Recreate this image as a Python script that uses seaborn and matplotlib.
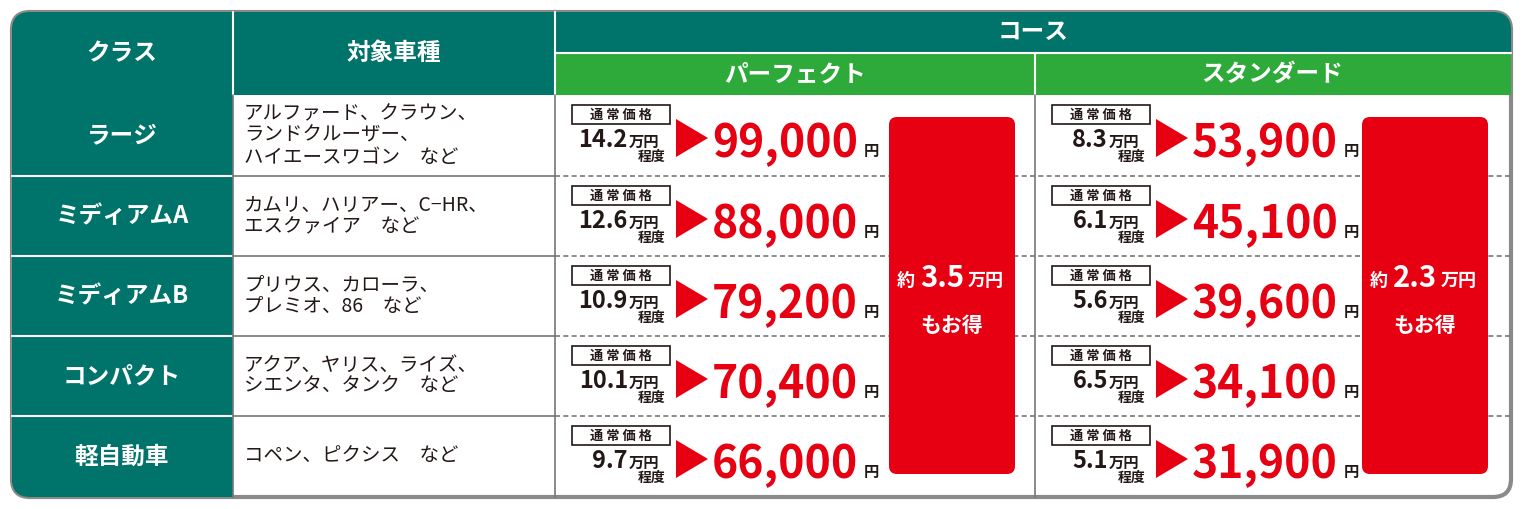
import matplotlib
matplotlib.use("Agg")
import matplotlib.pyplot as plt
import seaborn as sns
from matplotlib.patches import FancyBboxPatch, Rectangle, Polygon

sns.set_style("white")
plt.rcParams['font.family'] = ['Noto Sans CJK JP', 'DejaVu Sans']

classes = ["ラージ", "ミディアムA", "ミディアムB", "コンパクト", "軽自動車"]
vehicles = ["アルファード、クラウン、\nランドクルーザー、\nハイエースワゴン　など",
            "カムリ、ハリアー、C−HR、\nエスクァイア　など",
            "プリウス、カローラ、\nプレミオ、86　など",
            "アクア、ヤリス、ライズ、\nシエンタ、タンク　など",
            "コペン、ピクシス　など"]
perfect_normal = ["14.2", "12.6", "10.9", "10.1", "9.7"]
perfect_price = [99000, 88000, 79200, 70400, 66000]
standard_normal = ["8.3", "6.1", "5.6", "6.5", "5.1"]
standard_price = [53900, 45100, 39600, 34100, 31900]
perfect_saving = "3.5"
standard_saving = "2.3"

TEAL = "#00736a"
GREEN = "#2eaa3a"
RED = "#e60012"
DARK = "#231815"

fig = plt.figure(figsize=(15.3, 5.09), dpi=100)
ax = fig.add_axes([0, 0, 1, 1])
ax.set_xlim(0, 1530); ax.set_ylim(509, 0); ax.axis("off")

L, R, T, B = 12, 1511, 12, 497
ax.add_patch(FancyBboxPatch((L, T), R - L, B - T, boxstyle="round,pad=0,rounding_size=18",
                            fc="white", ec="#8a8a8a", lw=3, zorder=0))
ax.add_patch(FancyBboxPatch((L, T), R - L, 83, boxstyle="round,pad=0,rounding_size=18",
                            fc=TEAL, ec="none", zorder=1))
ax.add_patch(Rectangle((L, 50), R - L, 45, fc=TEAL, ec="none", zorder=1))
ax.add_patch(Rectangle((555, 53), R - 555, 42, fc=GREEN, ec="none", zorder=2))
ax.add_patch(Rectangle((L, 95), 221, B - 95 - 14, fc=TEAL, ec="none", zorder=1))
ax.add_patch(FancyBboxPatch((L, 400), 221, B - 400, boxstyle="round,pad=0,rounding_size=18",
                            fc=TEAL, ec="none", zorder=1))
ax.add_patch(Rectangle((L + 100, 400), 121, B - 400, fc=TEAL, ec="none", zorder=1))
hk = dict(color="white", fontsize=17, fontweight="bold", ha="center", va="center", zorder=5)
ax.text(122, 53, "クラス", **hk)
ax.text(394, 53, "対象車種", **hk)
ax.text(1033, 32, "コース", **hk)
ax.text(795, 74, "パーフェクト", **hk)
ax.text(1272, 74, "スタンダード", **hk)
for x in (233, 555):
    ax.plot([x, x], [T, 95], color="white", lw=1.5, zorder=3)
ax.plot([1035, 1035], [53, 95], color="white", lw=1.5, zorder=3)
ax.plot([555, R], [53, 53], color="white", lw=1.5, zorder=3)

rows = [95, 176, 256, 336, 416, 497]
for i in range(1, 5):
    y = rows[i]
    ax.plot([L, 233], [y, y], color="white", lw=1.5, zorder=3)
    ax.plot([233, 555], [y, y], color="#777777", lw=1.2, zorder=3)
    ax.plot([555, R], [y, y], color="#777777", lw=1.2, ls=(0, (3, 2)), zorder=3)
for x in (233, 555, 1035):
    ax.plot([x, x], [95, B], color="#777777", lw=1.2, zorder=3)

for x0, s in ((889, perfect_saving), (1362, standard_saving)):
    ax.add_patch(FancyBboxPatch((x0, 117), 126, 357, boxstyle="round,pad=0,rounding_size=8",
                                fc=RED, ec="none", zorder=4))
    cx = x0 + 63
    ax.text(cx - 46, 280, "約", color="white", fontsize=13, fontweight="bold", ha="center", va="center", zorder=5)
    ax.text(cx - 10, 278, s, color="white", fontsize=21, fontweight="bold", ha="center", va="center", zorder=5)
    ax.text(cx + 34, 280, "万円", color="white", fontsize=13, fontweight="bold", ha="center", va="center", zorder=5)
    ax.text(cx, 326, "もお得", color="white", fontsize=15, fontweight="bold", ha="center", va="center", zorder=5)

def price_block(x0, y0, normal, price):
    ax.add_patch(Rectangle((x0, y0 + 10), 98, 19, fc="white", ec=DARK, lw=1.2, zorder=4))
    ax.text(x0 + 49, y0 + 19.5, "通 常 価 格", fontsize=9.5, fontweight="bold", color=DARK,
            ha="center", va="center", zorder=5)
    ax.text(x0 + 56, y0 + 52, normal, fontsize=17, fontweight="bold", color=DARK,
            ha="right", va="baseline", zorder=5)
    ax.text(x0 + 57, y0 + 52, "万円", fontsize=11, fontweight="bold", color=DARK,
            ha="left", va="baseline", zorder=5)
    ax.text(x0 + 80, y0 + 66, "程度", fontsize=10, fontweight="bold", color=DARK,
            ha="center", va="baseline", zorder=5)
    ax.add_patch(Polygon([[x0 + 104, y0 + 24], [x0 + 104, y0 + 62], [x0 + 136, y0 + 43]],
                         fc=RED, ec="none", zorder=5))
    ax.text(x0 + 140, y0 + 62, f"{price:,}", fontsize=32, fontweight="bold", color=RED,
            ha="left", va="baseline", zorder=5)
    ax.text(x0 + 299, y0 + 61, "円", fontsize=11, fontweight="bold", color=DARK,
            ha="center", va="baseline", zorder=5)

for i in range(5):
    y0 = rows[i]
    cy = (rows[i] + rows[i + 1]) / 2
    ax.text(122, cy, classes[i], color="white", fontsize=17, fontweight="bold",
            ha="center", va="center", zorder=5)
    ax.text(244, cy, vehicles[i], color=DARK, fontsize=14, ha="left", va="center",
            linespacing=1.05, zorder=5)
    price_block(572, y0, perfect_normal[i], perfect_price[i])
    price_block(1052, y0, standard_normal[i], standard_price[i])

fig.savefig("out.png", dpi=100)
